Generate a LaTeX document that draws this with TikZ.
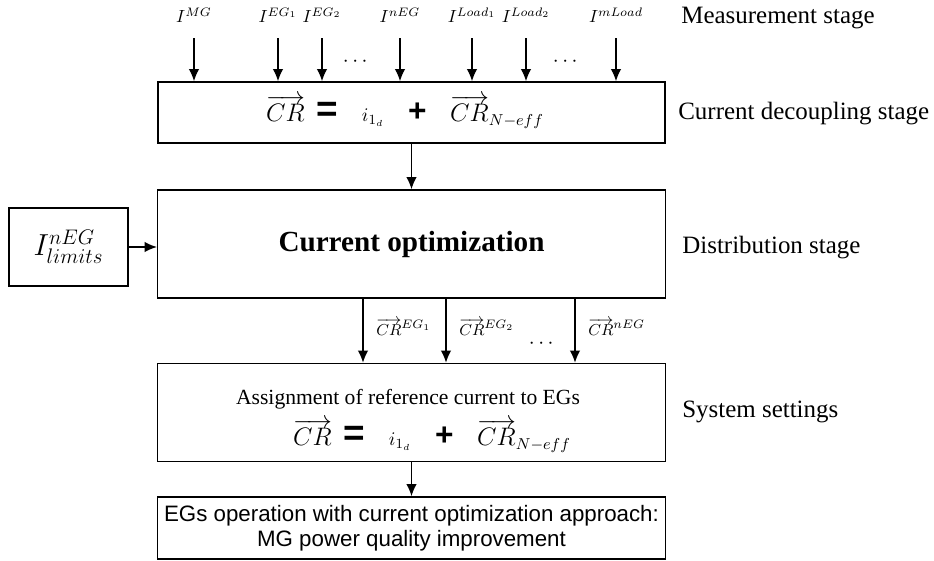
\documentclass[tikz,border=0pt]{standalone}
\usepackage[no-math]{fontspec}
\setmainfont{Liberation Serif}
\setsansfont{Liberation Sans}
\usepackage{amsmath}
\usetikzlibrary{arrows.meta, calc, positioning}

\newcommand{\eqsign}{{\fontsize{21}{21}\selectfont\bfseries\sffamily =}}
\newcommand{\plussign}{{\fontsize{18}{18}\selectfont\bfseries\sffamily +}}
\newcommand{\crsplit}{$\overrightarrow{CR}$\enspace\eqsign\quad
  {\fontsize{11}{12}\selectfont$i_{1_d}$}\quad\plussign\quad$\overrightarrow{CR}_{N-eff}$}

\begin{document}
\begin{tikzpicture}[
  x=0.02cm, y=-0.02cm,
  stagebox/.style = {draw, line width=0.8pt, inner sep=0pt, align=center},
  flow/.style = {-{Latex[length=7pt, width=6pt]}, line width=0.8pt},
  stagelabel/.style = {anchor=west, inner sep=0pt, font=\fontsize{14.2}{17}\selectfont},
  meas/.style = {inner sep=0pt, font=\fontsize{10}{12}\selectfont},
  dotsnode/.style = {inner sep=0pt, font=\fontsize{13}{14}\selectfont},
  eqn/.style = {inner sep=0pt, font=\fontsize{13.5}{16}\selectfont},
  every node/.style = {font=\small}
]

% Frame
\useasboundingbox (0,0) rectangle (934,561);

% Stage boxes
\node[stagebox, minimum width=10.14cm, minimum height=1.22cm] (decouple) at (411.5,112.5) {};
\node[stagebox, minimum width=10.16cm, minimum height=2.16cm,
      font=\fontsize{16.6}{20}\selectfont\bfseries] (dist) at (411.5,244) {Current optimization};
\node[stagebox, minimum width=10.16cm, minimum height=1.96cm] (assign) at (411.5,412.5) {};
\node[stagebox, minimum width=10.16cm, minimum height=1.24cm,
      font=\fontsize{12.7}{14.2}\selectfont\sffamily] (operate) at (411.5,528)
      {EGs operation with current optimization approach:\\MG power quality improvement};
\node[stagebox, minimum width=2.38cm, minimum height=1.56cm,
      font=\fontsize{18}{20}\selectfont] (limits) at (68.5,247) {$I^{nEG}_{limits}$};

% Measured currents
\foreach \xx/\lab [count=\i] in {194/{MG}, 278/{EG_1}, 322/{EG_2}, 400/{nEG},
                                472/{Load_1}, 526/{Load_2}, 616/{mLoad}} {
  \node[meas] (m\i) at (\xx,15) {$I^{\lab}$};
  \coordinate (t\i) at (\xx,38);
  \draw[flow] (t\i) -- (t\i |- decouple.north);
}
\node[dotsnode] (dotsa) at (357,62) {$\cdots$};
\node[dotsnode] (dotsb) at (567,62) {$\cdots$};

% Decoupling equation
\node[eqn] (eqa) at (405,112) {\crsplit};

% Flow between stages
\draw[flow] (decouple.south) -- (dist.north);
\draw[flow] (limits.east) -- (limits.east -| dist.west);
\draw[flow] (assign.south) -- (operate.north);

% Reference currents per EG
\foreach \xx/\lab [count=\i] in {363/{EG_1}, 446/{EG_2}, 575/{nEG}} {
  \coordinate (o\i) at (\xx,0);
  \draw[flow] (dist.south -| o\i) -- (assign.north -| o\i);
  \node[meas, anchor=west, font=\fontsize{9.5}{11}\selectfont] (r\i) at (\xx+13,327)
    {$\overrightarrow{CR}^{\lab}$};
}
\node[dotsnode] (dotsc) at (543,344) {$\cdots$};

% Assignment texts
\node[inner sep=0pt, font=\fontsize{12.3}{14}\selectfont] (asgtxt) at (408,399)
  {Assignment of reference current to EGs};
\node[eqn] (eqb) at (432,436) {\crsplit};

% Stage labels
\node[stagelabel] (lmeas) at (681,18) {Measurement stage};
\node[stagelabel] (ldec) at (678,114) {Current decoupling stage};
\node[stagelabel] (ldist) at (682,248) {Distribution stage};
\node[stagelabel] (lsys) at (682,412) {System settings};

\end{tikzpicture}
\end{document}
